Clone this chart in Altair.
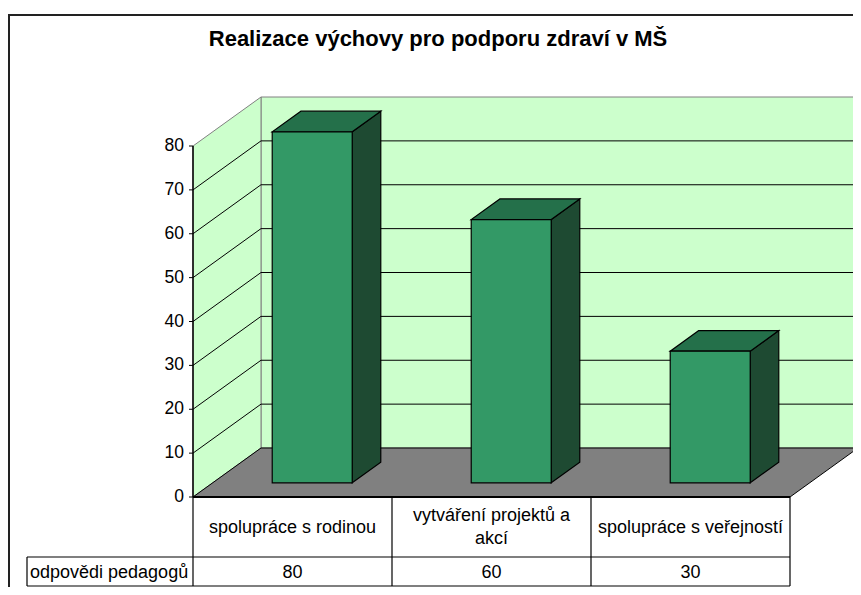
import altair as alt
import pandas as pd

# ---- data ----
title_text = "Realizace výchovy pro podporu zdraví v MŠ"
categories = ["spolupráce s rodinou", "vytváření projektů a\nakcí", "spolupráce s veřejností"]
values = [80, 60, 30]
series_name = "odpovědi pedagogů"
y_ticks = [0, 10, 20, 30, 40, 50, 60, 70, 80]

# ---- layout (page pixels -> scale units) ----
PX0, KX = 193.0, 199.0      # page x of category 0, px per category
PY0, KY = 497.0, 351.0 / 80  # page y of value 0, px per value unit
W, H = 845, 579

def ux(px):
    return (px - PX0) / KX

def vy(py):
    return (PY0 - py) / KY

DU = 68.0 / KX        # depth in category units
DV = 49.0 / KY        # depth in value units
D_F, D_B = 0.29, 0.71  # bar front / back depth fraction
BAR_HALF = 40.0 / KX
N = len(categories)
YMAX = max(y_ticks)
LINE_H = 23.0

xs = alt.Scale(domain=[ux(8), ux(8 + W)], nice=False, zero=False)
ys = alt.Scale(domain=[vy(8 + H), vy(8)], nice=False, zero=False)

def X(f, **k):
    return alt.X(f, type="quantitative", scale=xs, axis=None, **k)

def Y(f, **k):
    return alt.Y(f, type="quantitative", scale=ys, axis=None, **k)

WALL = "#CCFFCC"
FLOOR = "#808080"
GRAYLINE = "#808080"
FRONT, TOP, SIDE = "#339966", "#24704A", "#1E4A32"
FONT = "Liberation Sans"

# back wall
back = pd.DataFrame([{"x0": DU, "x1": N + DU, "y0": DV, "y1": YMAX + DV}])
back_l = alt.Chart(back).mark_rect(fill=WALL, stroke=GRAYLINE, strokeWidth=1).encode(
    x=X("x0"), x2="x1", y=Y("y0"), y2="y1")

# side wall
side = pd.DataFrame([{"x": 0, "lo": 0, "hi": YMAX}, {"x": DU, "lo": DV, "hi": YMAX + DV}])
side_l = alt.Chart(side).mark_area(orient="vertical", fill=WALL, stroke=GRAYLINE, strokeWidth=1).encode(
    x=X("x"), y=Y("lo"), y2="hi")

# floor
floor = pd.DataFrame([{"y": 0, "xl": 0, "xr": N}, {"y": DV, "xl": DU, "xr": N + DU}])
floor_l = alt.Chart(floor).mark_area(orient="horizontal", fill=FLOOR, stroke="#000000", strokeWidth=1).encode(
    y=Y("y"), x=X("xl"), x2="xr")

# gridlines
grid_t = [t for t in y_ticks if 0 < t < YMAX]
gb = pd.DataFrame({"x0": DU, "x1": N + DU, "y": [t + DV for t in grid_t]})
gb_l = alt.Chart(gb).mark_rule(color="#000000", strokeWidth=1).encode(x=X("x0"), x2="x1", y=Y("y"))
gs = pd.DataFrame({"x0": 0.0, "x1": DU, "y0": grid_t, "y1": [t + DV for t in grid_t]})
gs_l = alt.Chart(gs).mark_rule(color="#000000", strokeWidth=1).encode(x=X("x0"), x2="x1", y=Y("y0"), y2="y1")

# axis
ax = pd.DataFrame([{"x": 0.0, "y0": 0, "y1": YMAX}])
ax_l = alt.Chart(ax).mark_rule(color="#000000", strokeWidth=1.5).encode(x=X("x"), y=Y("y0"), y2="y1")
tk = pd.DataFrame({"x0": ux(189), "x1": 0.0, "y": y_ticks})
tk_l = alt.Chart(tk).mark_rule(color="#000000", strokeWidth=1).encode(x=X("x0"), x2="x1", y=Y("y"))
tl = pd.DataFrame({"x": ux(184), "y": y_ticks, "t": [str(t) for t in y_ticks]})
tl_l = alt.Chart(tl).mark_text(align="right", baseline="middle", font=FONT, fontSize=17.5, color="#000").encode(
    x=X("x"), y=Y("y"), text="t:N")

# bars
fr, sd, tp = [], [], []
dd = D_B - D_F
for i, v in enumerate(values):
    xl = i + 0.5 - BAR_HALF + D_F * DU
    xr = i + 0.5 + BAR_HALF + D_F * DU
    fr.append({"b": i, "x0": xl, "x1": xr, "y0": D_F * DV, "y1": v + D_F * DV})
    sd.append({"b": i, "x": xr, "lo": D_F * DV, "hi": v + D_F * DV})
    sd.append({"b": i, "x": xr + dd * DU, "lo": D_B * DV, "hi": v + D_B * DV})
    tp.append({"b": i, "y": v + D_F * DV, "xl": xl, "xr": xr})
    tp.append({"b": i, "y": v + D_B * DV, "xl": xl + dd * DU, "xr": xr + dd * DU})
front_l = alt.Chart(pd.DataFrame(fr)).mark_rect(fill=FRONT, stroke="#000", strokeWidth=1.2).encode(
    x=X("x0"), x2="x1", y=Y("y0"), y2="y1")
sideb_l = alt.Chart(pd.DataFrame(sd)).mark_area(orient="vertical", fill=SIDE, stroke="#000", strokeWidth=1.2).encode(
    x=X("x"), y=Y("lo"), y2="hi", detail="b:N")
top_l = alt.Chart(pd.DataFrame(tp)).mark_area(orient="horizontal", fill=TOP, stroke="#000", strokeWidth=1.2).encode(
    y=Y("y"), x=X("xl"), x2="xr", detail="b:N")

# data table
R1, R2, TL = vy(557), vy(586), ux(27)
hr = pd.DataFrame([
    {"x0": 0.0, "x1": float(N), "y": 0.0, "w": 2.0},
    {"x0": TL, "x1": float(N), "y": R1, "w": 1.2},
    {"x0": TL, "x1": float(N), "y": R2, "w": 1.2},
])
hr_l = alt.Chart(hr).mark_rule(color="#000").encode(
    x=X("x0"), x2="x1", y=Y("y"), strokeWidth=alt.StrokeWidth("w:Q", scale=None))
vr = pd.DataFrame([{"x": float(i), "y0": 0.0, "y1": R2} for i in range(N + 1)] + [{"x": TL, "y0": R1, "y1": R2}])
vr_l = alt.Chart(vr).mark_rule(color="#000", strokeWidth=1.2).encode(x=X("x"), y=Y("y0"), y2="y1")
# first-line position so that multi-line labels are centred in the cell
ct = pd.DataFrame({
    "x": [i + 0.5 for i in range(N)],
    "y": [vy(527.5 - (c.count("\n")) * LINE_H / 2) for c in categories],
    "t": categories,
})
ct_l = alt.Chart(ct).mark_text(align="center", baseline="middle", lineBreak="\n", lineHeight=LINE_H,
                               font=FONT, fontSize=18, color="#000").encode(x=X("x"), y=Y("y"), text="t:N")
vt = pd.DataFrame({"x": [i + 0.5 for i in range(N)], "y": vy(572.5), "t": [str(v) for v in values]})
vt_l = alt.Chart(vt).mark_text(align="center", baseline="middle", font=FONT, fontSize=18, color="#000").encode(
    x=X("x"), y=Y("y"), text="t:N")
hd = pd.DataFrame([{"x": ux(30), "y": vy(572.5), "t": series_name}])
hd_l = alt.Chart(hd).mark_text(align="left", baseline="middle", font=FONT, fontSize=18, color="#000").encode(
    x=X("x"), y=Y("y"), text="t:N")

# title
tt = pd.DataFrame([{"x": ux(438), "y": vy(39), "t": title_text}])
tt_l = alt.Chart(tt).mark_text(align="center", baseline="middle", font=FONT, fontSize=22, fontWeight="bold",
                               color="#000").encode(x=X("x"), y=Y("y"), text="t:N")

# chart area border
bd = pd.DataFrame([
    {"x0": ux(8), "x1": ux(8 + W), "y0": vy(15), "y1": vy(15)},
    {"x0": ux(9), "x1": ux(9), "y0": vy(15), "y1": vy(8 + H)},
])
bd_l = alt.Chart(bd).mark_rule(color="#222", strokeWidth=2).encode(x=X("x0"), x2="x1", y=Y("y0"), y2="y1")

chart = alt.layer(
    back_l, side_l, floor_l, gb_l, gs_l, ax_l, tk_l, tl_l,
    sideb_l, top_l, front_l,
    hr_l, vr_l, ct_l, vt_l, hd_l, tt_l, bd_l,
).properties(
    width=W, height=H, padding=0, autosize=alt.AutoSizeParams(type="none"), background="white"
).configure_view(stroke=None)

chart.save("out.html", embed_options={"renderer": "svg", "actions": False})
